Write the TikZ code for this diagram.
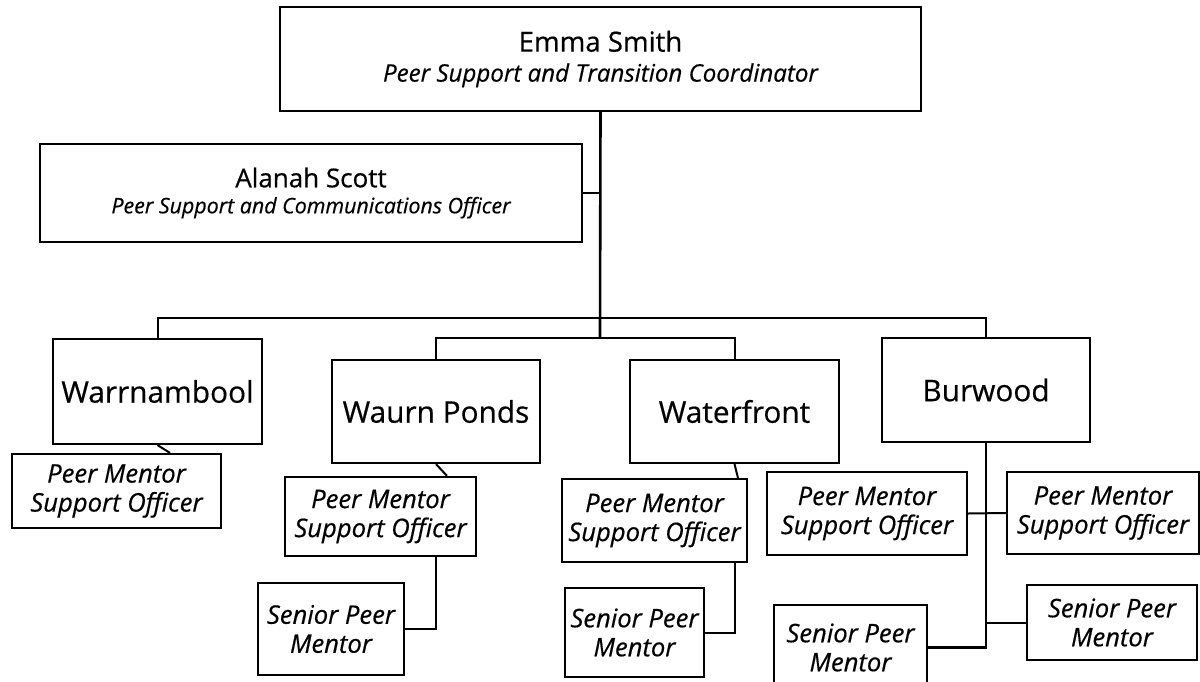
\documentclass[tikz,border=0pt]{standalone}
\usepackage{fontspec}
\setmainfont{Open Sans}[FakeBold=0.5]
\begin{document}
\begin{tikzpicture}[x=1pt,y=-1pt,
  box/.style={draw, line width=2.2pt, inner sep=0pt, align=center},
  conn/.style={line width=2pt},
  trunkline/.style={line width=2.6pt},
  subfont/.style={font=\fontsize{25.6}{29}\selectfont\itshape},
  locfont/.style={font=\fontsize{29.8}{34}\selectfont}]
\useasboundingbox (0,0) rectangle (1200,681);
% top boxes
\node[box, minimum width=641pt, minimum height=104pt, font=\fontsize{27.6}{32}\selectfont] (emma) at (600.5,59)
  {Emma Smith\\[-2pt]{\fontsize{24.1}{32}\selectfont\itshape Peer Support and Transition Coordinator}};
\node[box, minimum width=542pt, minimum height=98pt, font=\fontsize{26}{30}\selectfont] (alanah) at (311,193)
  {Alanah Scott\\[-4pt]{\fontsize{21.4}{30}\selectfont\itshape Peer Support and Communications Officer}};
% campus boxes
\node[box, locfont, minimum width=209pt, minimum height=105pt] (warr) at (157.5,391.5) {Warrnambool};
\node[box, locfont, minimum width=208pt, minimum height=103pt] (waurn) at (436,411.5) {Waurn Ponds};
\node[box, locfont, minimum width=209pt, minimum height=103pt] (water) at (734.5,411.5) {Waterfront};
\node[box, locfont, minimum width=208pt, minimum height=104pt] (burwood) at (986,390) {Burwood};
% peer mentor support officers
\node[box, subfont, minimum width=209pt, minimum height=74pt] (pm1) at (116.5,491) {Peer Mentor\\Support Officer};
\node[box, subfont, minimum width=191pt, minimum height=79pt] (pm2) at (380.5,516.5) {Peer Mentor\\Support Officer};
\node[box, subfont, minimum width=185pt, minimum height=83pt] (pm3) at (654.5,520.5) {Peer Mentor\\Support Officer};
\node[box, subfont, minimum width=200pt, minimum height=83pt] (pm4) at (867,513.5) {Peer Mentor\\Support Officer};
\node[box, subfont, minimum width=192pt, minimum height=82pt] (pm5) at (1103,513) {Peer Mentor\\Support Officer};
% senior peer mentors
\node[box, subfont, minimum width=146pt, minimum height=92pt] (sp2) at (331,629) {Senior Peer\\Mentor};
\node[box, subfont, minimum width=139pt, minimum height=89pt] (sp3) at (634.5,632.5) {Senior Peer\\Mentor};
\node[box, subfont, minimum width=153pt, minimum height=85pt] (sp4) at (850.5,647.5) {Senior Peer\\Mentor};
\node[box, subfont, minimum width=170pt, minimum height=75pt] (sp5) at (1112,622.5) {Senior Peer\\Mentor};
% junctions
\coordinate (j1) at (600,318);
\coordinate (j2) at (600,338);
% connectors
\draw[trunkline] (emma.south) -- (j2);
\draw[conn] (alanah.east) -- (alanah.east -| emma.south);
\draw[conn] (warr.north) |- (j1) -| (burwood.north);
\draw[conn] (waurn.north) |- (j2) -| (water.north);
\draw[conn] (warr.south) -- ([xshift=53.5pt]pm1.north);
\draw[conn] (waurn.south) -- ([xshift=66.5pt]pm2.north);
\draw[conn] (water.south) -- ([xshift=83.5pt]pm3.north);
\draw[conn] (pm2.south -| waurn.south) |- (sp2.east);
\draw[conn] (pm3.south -| water.south) |- (sp3.east);
\draw[trunkline] (burwood.south) |- (sp4.east);
\draw[conn] (pm4.east) -- (pm5.west);
\draw[conn] (sp5.west) -- (sp5.west -| burwood.south);
\end{tikzpicture}
\end{document}
